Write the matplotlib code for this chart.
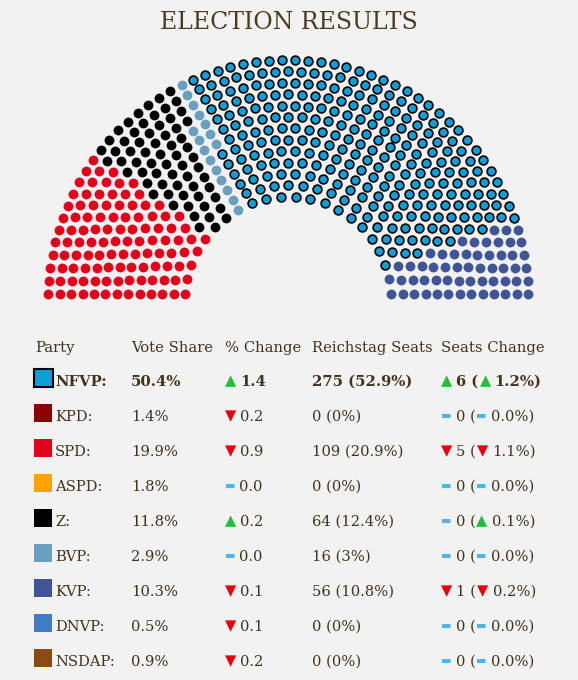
import numpy as np
import matplotlib.pyplot as plt
from matplotlib.patches import Rectangle

parties = ["NFVP", "KPD", "SPD", "ASPD", "Z", "BVP", "KVP", "DNVP", "NSDAP"]
colors = ["#0ba0da", "#8b0000", "#e2001a", "#ffa200", "#000000",
          "#6b9fc0", "#3f5596", "#3f7cc5", "#8e4a0d"]
vote_share = [50.4, 1.4, 19.9, 1.8, 11.8, 2.9, 10.3, 0.5, 0.9]
vote_change = [1.4, -0.2, -0.9, 0.0, 0.2, 0.0, -0.1, -0.1, -0.2]
seats = [275, 0, 109, 0, 64, 16, 56, 0, 0]
seat_share = [52.9, 0, 20.9, 0, 12.4, 3, 10.8, 0, 0]
seat_change = [6, 0, -5, 0, 0, 0, -1, 0, 0]
seat_share_change = [1.2, 0.0, -1.1, 0.0, 0.1, 0.0, -0.2, 0.0, 0.0]
seat_order = ["SPD", "Z", "BVP", "NFVP", "KVP"]   # left to right in the hemicycle
headers = ["Party", "Vote Share", "% Change", "Reichstag Seats", "Seats Change"]
highlight = "NFVP"

bg = "#f2f2f2"
ink = "#41341e"
up, down, flat = "#1fbf3c", "#e8000b", "#4db6e6"

plt.rcParams["font.family"] = "DejaVu Serif"

fig = plt.figure(figsize=(5.78, 6.8), dpi=100, facecolor=bg)
ax = fig.add_axes([0, 0, 1, 1])
ax.set_xlim(0, 578)
ax.set_ylim(680, 0)
ax.axis("off")

ax.text(289, 29, "ELECTION RESULTS", ha="center", va="baseline",
        fontsize=17, color="#4a3c20")

# hemicycle: 13 rings, seats spread over rings by radius, then filled by angle
cx, cy = 288.3, 300
radii = np.linspace(103.3, 240, 13)
total = sum(seats)
w = radii - 20
raw = total * w / w.sum()
counts = np.floor(raw).astype(int)
rest = total - counts.sum()
counts[np.argsort(raw - counts)[::-1][:rest]] += 1

slots = []
for r, n in zip(radii, counts):
    a0 = np.arcsin(6 / r)
    for a in np.linspace(np.pi - a0, a0, n):
        slots.append((a, r))
slots.sort(key=lambda p: -p[0])

owner = []
for p in seat_order:
    owner += [p] * seats[parties.index(p)]

for p in seat_order:
    pts = [s for s, o in zip(slots, owner) if o == p]
    a = np.array([s[0] for s in pts])
    r = np.array([s[1] for s in pts])
    xs = cx + r * np.cos(a)
    ys = cy - r * np.sin(a)
    c = colors[parties.index(p)]
    if p == highlight:
        ax.scatter(xs, ys, s=40, color=c, edgecolors="black", linewidths=1.2, zorder=3)
    else:
        ax.scatter(xs, ys, s=50, color=c, linewidths=0, zorder=3)

# table
fig.canvas.draw()
renderer = fig.canvas.get_renderer()

col_x = [35, 131, 225, 312, 441]
head_y = 352
row_y = 386
step = 35
fs = 10.6

for x, h in zip(col_x, headers):
    ax.text(x, head_y, h, fontsize=fs, color=ink, va="baseline")


def marker(v):
    if v > 0:
        return ("\u25b2", up)
    if v < 0:
        return ("\u25bc", down)
    return ("\u25ac", flat)


def put_parts(x, y, parts, weight):
    for s, c, sans, gap in parts:
        if sans:
            dash = s == "\u25ac"
            t = ax.text(x, y - 2.5 if dash else y - 1, s, color=c,
                        va="baseline", ha="left", fontsize=8 if dash else 10.5,
                        family="DejaVu Sans")
        else:
            t = ax.text(x, y, s, color=c, va="baseline", ha="left",
                        fontsize=fs, fontweight=weight)
        x += t.get_window_extent(renderer).width + gap


for i, p in enumerate(parties):
    y = row_y + i * step
    bold = p == highlight
    wt = "bold" if bold else "normal"
    if bold:
        ax.add_patch(Rectangle((34, y - 17.5), 18.5, 18.5, facecolor=colors[i],
                               edgecolor="black", linewidth=1.5))
    else:
        ax.add_patch(Rectangle((34, y - 17), 18, 18, facecolor=colors[i],
                               edgecolor="none"))
    ax.text(55, y, p + ":", fontsize=fs, color=ink, va="baseline", fontweight=wt)
    ax.text(col_x[1], y, f"{vote_share[i]:.1f}%", fontsize=fs, color=ink,
            va="baseline", fontweight=wt)

    m, mc = marker(vote_change[i])
    put_parts(col_x[2], y, [(m, mc, True, 4),
                            (f"{abs(vote_change[i]):.1f}", ink, False, 0)], wt)

    ax.text(col_x[3], y, f"{seats[i]} ({seat_share[i]:g}%)", fontsize=fs,
            color=ink, va="baseline", fontweight=wt)

    m1, c1 = marker(seat_change[i])
    m2, c2 = marker(seat_share_change[i])
    put_parts(col_x[4], y, [(m1, c1, True, 4),
                            (f"{abs(seat_change[i])} (", ink, False, 1),
                            (m2, c2, True, 4),
                            (f"{abs(seat_share_change[i]):.1f}%)", ink, False, 0)], wt)

fig.savefig("out.png", dpi=100, facecolor=bg)
